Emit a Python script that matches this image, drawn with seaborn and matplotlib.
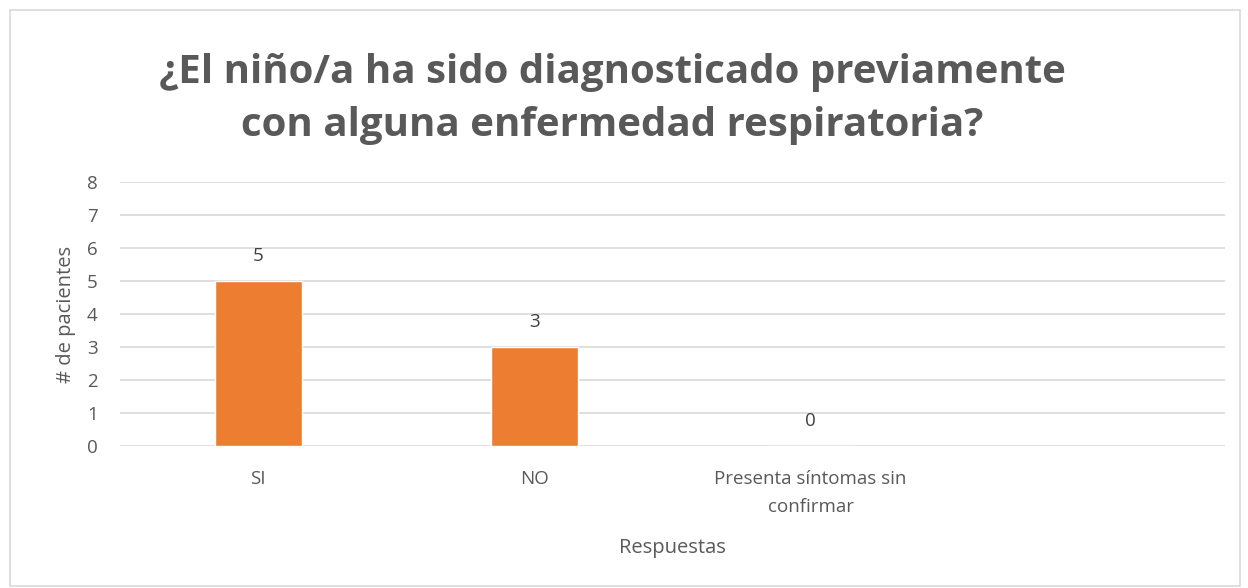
import matplotlib
matplotlib.use("Agg")
import matplotlib.pyplot as plt
import seaborn as sns
import pandas as pd
from matplotlib.patches import Rectangle

categories = ["SI", "NO", "Presenta síntomas sin\nconfirmar"]
values = [5, 3, 0]
y_ticks = [0, 1, 2, 3, 4, 5, 6, 7, 8]

TEXT = "#595959"
ORANGE = "#ED7D31"
GRID = "#D9D9D9"

sns.set_theme(style="white")
plt.rcParams['font.family'] = ['Open Sans', 'DejaVu Sans']

df = pd.DataFrame({"resp": categories, "n": values})

fig = plt.figure(figsize=(12.48, 5.88), dpi=100)
ax = fig.add_axes([0.0962, 0.2415, 0.8854, 0.4485])

sns.barplot(data=df, x="resp", y="n", color=ORANGE, width=0.315,
            saturation=1, ax=ax, zorder=3)
ax.set_xlim(-0.5, 3.5)
ax.set_ylim(0, 8)
ax.set_yticks(y_ticks)
ax.yaxis.grid(True, color=GRID, linewidth=1.2, zorder=0)
for s in ax.spines.values():
    s.set_visible(False)
ax.tick_params(axis="both", length=0, colors=TEXT, labelsize=13.5)
ax.tick_params(axis="x", pad=17)
ax.tick_params(axis="y", pad=16)
for lbl in ax.get_xticklabels():
    lbl.set_linespacing(1.75)

for i, v in enumerate(values):
    ax.annotate(str(v), (i, v), xytext=(0, 18), textcoords="offset points",
                ha="center", va="center", color="#404040", fontsize=13.5)

ax.set_xlabel("Respuestas", color=TEXT, fontsize=14.5, labelpad=16)
ax.set_ylabel("# de pacientes", color=TEXT, fontsize=14.5)
ax.yaxis.set_label_coords(-0.04, 0.5)

fig.text(612 / 1248, 1 - 99 / 588,
         "¿El niño/a ha sido diagnosticado previamente\ncon alguna enfermedad respiratoria?",
         ha="center", va="center", fontsize=29, fontweight="bold", color=TEXT,
         linespacing=1.45)

fig.patches.append(Rectangle((10 / 1248, 2 / 588), 1230 / 1248, 576 / 588,
                             transform=fig.transFigure, fill=False,
                             edgecolor="#D9D9D9", linewidth=1.2))

fig.savefig("out.png", dpi=100, facecolor="white")
